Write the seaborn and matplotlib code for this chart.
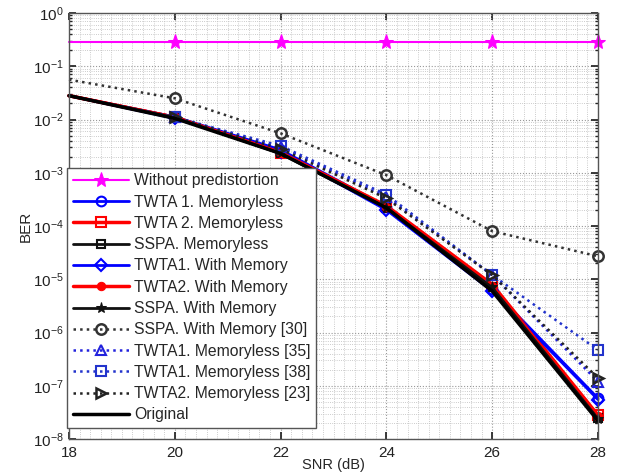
import numpy as np
import pandas as pd
import matplotlib
matplotlib.use("Agg")
import matplotlib.pyplot as plt
import seaborn as sns
from matplotlib.ticker import LogLocator, MultipleLocator, NullFormatter, FixedLocator

snr = [18, 20, 22, 24, 26, 28]

without_pd = [0.28, 0.28, 0.28, 0.28, 0.28, 0.28]
twta1_ml = [0.028, 0.0112, 2.7e-3, 2.3e-4, 6.5e-6, 5.8e-8]
twta2_ml = [0.028, 0.011, 2.4e-3, 2.4e-4, 8.0e-6, 2.8e-8]
sspa_ml = [0.028, 0.011, 2.3e-3, 2.2e-4, 7.0e-6, 2.5e-8]
twta1_mem = [0.028, 0.0105, 2.5e-3, 2.0e-4, 6.0e-6, 5.5e-8]
twta2_mem = [0.028, 0.011, 2.4e-3, 2.3e-4, 7.5e-6, 2.7e-8]
sspa_mem = [0.028, 0.0108, 2.3e-3, 2.2e-4, 7.0e-6, 2.4e-8]
sspa_30 = [0.056, 0.025, 5.5e-3, 9.0e-4, 8.0e-5, 2.7e-5]
twta1_35 = [0.028, 0.011, 3.0e-3, 3.5e-4, 1.2e-5, 1.2e-7]
twta1_38 = [0.028, 0.011, 3.2e-3, 3.9e-4, 1.2e-5, 4.7e-7]
twta2_23 = [0.028, 0.011, 2.8e-3, 3.3e-4, 1.2e-5, 1.4e-7]
original = [0.028, 0.0105, 2.3e-3, 2.2e-4, 6.0e-6, 2.2e-8]

x_ticks = [18, 20, 22, 24, 26, 28]
y_ticks = [1e-8, 1e-7, 1e-6, 1e-5, 1e-4, 1e-3, 1e-2, 1e-1, 1e0]

labels = ["Without predistortion", "TWTA 1. Memoryless", "TWTA 2. Memoryless",
          "SSPA. Memoryless", "TWTA1. With Memory", "TWTA2. With Memory",
          "SSPA. With Memory", "SSPA. With Memory [30]", "TWTA1. Memoryless [35]",
          "TWTA1. Memoryless [38]", "TWTA2. Memoryless [23]", "Original"]
series = [without_pd, twta1_ml, twta2_ml, sspa_ml, twta1_mem, twta2_mem, sspa_mem,
          sspa_30, twta1_35, twta1_38, twta2_23, original]

styles = [
    dict(color="#ff00ff", marker="*", linestyle="-", lw=1.5, ms=11, mfc="#ff00ff"),
    dict(color="#0000ff", marker="o", linestyle="-", lw=2, ms=7, mfc="none", mew=1.5),
    dict(color="#ff0000", marker="s", linestyle="-", lw=2.5, ms=7, mfc="none", mew=1.5),
    dict(color="#111111", marker="s", linestyle="-", lw=2, ms=6, mfc="none", mew=1.5),
    dict(color="#0000ff", marker="D", linestyle="-", lw=2, ms=6, mfc="none", mew=1.5),
    dict(color="#ff0000", marker="o", linestyle="-", lw=2.5, ms=6, mfc="#ff0000"),
    dict(color="#111111", marker="*", linestyle="-", lw=2, ms=8, mfc="#111111"),
    dict(color="#333333", marker="o", linestyle=":", lw=1.8, ms=7.5, mfc="none", mew=1.8),
    dict(color="#2222dd", marker="^", linestyle=":", lw=1.8, ms=7.5, mfc="none", mew=1.5),
    dict(color="#2233cc", marker="s", linestyle=":", lw=1.8, ms=6.5, mfc="none", mew=1.5),
    dict(color="#222222", marker=">", linestyle=":", lw=1.8, ms=7.5, mfc="none", mew=1.8),
    dict(color="#000000", marker=None, linestyle="-", lw=2.5),
]

sns.set_theme(style="white")
plt.rcParams["font.family"] = ["Liberation Sans", "DejaVu Sans"]
plt.rcParams["mathtext.fontset"] = "custom"
plt.rcParams["mathtext.rm"] = "Liberation Sans"
plt.rcParams["mathtext.it"] = "Liberation Sans"

fig = plt.figure(figsize=(6.21, 4.74), dpi=100)
ax = fig.add_axes([69/621, 35/474, (598-69)/621, (439-13)/474])

for lab, vals, st in zip(labels, series, styles):
    st = dict(st)
    lw = st.pop("lw")
    ms = st.pop("ms", 6)
    df = pd.DataFrame({"SNR": snr, "BER": vals})
    kw = dict(x="SNR", y="BER", data=df, ax=ax, label=lab, linewidth=lw,
              color=st.pop("color"), linestyle=st.pop("linestyle"), clip_on=False)
    mk = st.pop("marker")
    if mk is not None:
        kw.update(marker=mk, markersize=ms, markevery=list(range(1, len(snr))),
                  markeredgecolor=kw["color"])
        kw.update(st)
    sns.lineplot(**kw)

ax.set_yscale("log")
ax.set_xlim(18, 28)
ax.set_ylim(1e-8, 1)
ax.xaxis.set_major_locator(FixedLocator(x_ticks))
ax.xaxis.set_minor_locator(MultipleLocator(0.2))
ax.xaxis.set_minor_formatter(NullFormatter())
ax.yaxis.set_major_locator(FixedLocator(y_ticks))
ax.yaxis.set_minor_locator(LogLocator(base=10, subs=np.arange(2, 10), numticks=100))
ax.yaxis.set_minor_formatter(NullFormatter())
ax.grid(True, which="major", linestyle=":", color="#999999", linewidth=0.8)
ax.grid(True, which="minor", linestyle=":", color="#bbbbbb", linewidth=0.6)
ax.set_axisbelow(True)
ax.tick_params(axis="both", which="major", direction="in", length=5, labelsize=11,
               colors="#222222", bottom=True, left=True, top=True, right=True, pad=4)
ax.tick_params(axis="x", which="major", pad=5)
ax.tick_params(axis="both", which="minor", direction="in", length=2.5,
               bottom=False, top=False, left=True, right=True)
for sp in ax.spines.values():
    sp.set_color("#555555")
    sp.set_linewidth(1.0)
ax.set_xlabel("SNR (dB)", fontsize=10.5, labelpad=-1.5)
ax.set_ylabel("BER", fontsize=11, labelpad=0)

leg = ax.legend(loc="lower left", bbox_to_anchor=(-0.003, 0.026), fontsize=11.3,
                handlelength=3.6, handletextpad=0.3, labelspacing=0.4,
                borderpad=0.35, frameon=True, fancybox=False, framealpha=1,
                edgecolor="#555555", borderaxespad=0)
leg.get_frame().set_linewidth(1.0)
leg.set_zorder(5)

fig.savefig("out.png", dpi=100)
